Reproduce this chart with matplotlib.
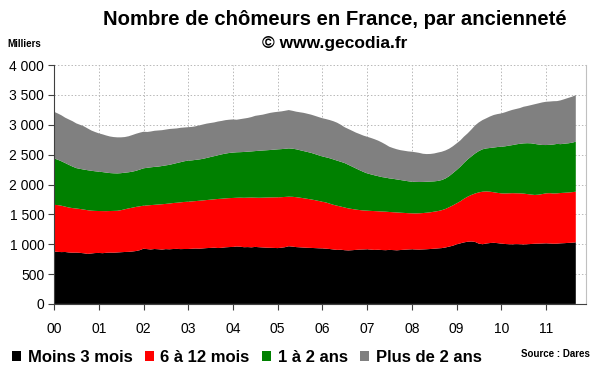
import numpy as np
import pandas as pd
import matplotlib
matplotlib.use("Agg")
import matplotlib.pyplot as plt
from matplotlib.patches import Patch

# Chômeurs par ancienneté, en milliers, mensuel de janvier 2000 à septembre 2011
moins_3_mois = [
    878, 872, 868, 870, 862, 858, 860, 855, 848, 838, 845, 852,
    854, 850, 856, 860, 858, 862, 866, 870, 872, 878, 886, 900,
    925, 918, 912, 920, 916, 910, 918, 915, 920, 922, 918, 920,
    920, 924, 928, 925, 930, 935, 938, 942, 936, 940, 948, 952,
    955, 962, 958, 950, 952, 948, 955, 950, 946, 942, 940, 938,
    935, 942, 950, 966, 960, 952, 948, 944, 940, 938, 935, 932,
    930, 925, 920, 912, 905, 908, 900, 896, 900, 905, 910, 912,
    915, 910, 905, 908, 903, 900, 905, 902, 898, 903, 908, 912,
    915, 912, 910, 913, 916, 920, 925, 930, 935, 945, 960, 975,
    998, 1015, 1030, 1042, 1046, 1038, 1010, 1000, 1012, 1020, 1024, 1018,
    1010, 1004, 1000, 998, 1002, 1000, 996, 1000, 1004, 1008, 1010, 1012,
    1015, 1012, 1008, 1010, 1015, 1018, 1022, 1025, 1032,
]
de_6_a_12_mois = [
    782, 783, 777, 760, 753, 747, 738, 735, 732, 732, 717, 706,
    702, 705, 698, 696, 700, 698, 704, 715, 728, 734, 739, 735,
    720, 732, 743, 740, 749, 760, 757, 767, 770, 773, 784, 788,
    792, 794, 794, 803, 804, 805, 808, 810, 822, 822, 820, 820,
    820, 816, 822, 828, 828, 834, 825, 828, 834, 840, 844, 847,
    851, 846, 842, 830, 834, 836, 832, 826, 820, 812, 803, 793,
    782, 773, 760, 748, 740, 722, 715, 704, 690, 675, 662, 654,
    647, 648, 650, 644, 645, 645, 635, 634, 634, 625, 616, 608,
    603, 604, 608, 609, 612, 615, 620, 625, 635, 645, 660, 675,
    687, 705, 730, 754, 779, 812, 858, 880, 873, 860, 846, 842,
    842, 846, 852, 857, 851, 852, 852, 840, 828, 817, 820, 828,
    837, 843, 842, 842, 843, 844, 844, 847, 848,
]
de_1_a_2_ans = [
    778, 760, 745, 730, 715, 695, 677, 672, 670, 670, 668, 664,
    659, 653, 646, 636, 630, 626, 620, 613, 605, 603, 605, 615,
    626, 630, 633, 635, 635, 640, 645, 648, 655, 665, 673, 682,
    688, 687, 690, 692, 696, 705, 714, 723, 732, 743, 750, 756,
    760, 762, 762, 767, 770, 773, 780, 787, 790, 792, 794, 799,
    803, 805, 806, 809, 806, 802, 795, 790, 785, 780, 772, 765,
    758, 757, 760, 760, 755, 750, 745, 730, 710, 690, 668, 646,
    625, 612, 600, 588, 577, 570, 563, 559, 553, 547, 541, 535,
    529, 528, 524, 521, 518, 515, 508, 505, 505, 510, 520, 540,
    558, 580, 600, 624, 645, 670, 692, 710, 720, 732, 750, 768,
    781, 790, 798, 805, 819, 830, 841, 852, 858, 855, 840, 822,
    809, 810, 820, 828, 818, 822, 824, 828, 837,
]
plus_de_2_ans = [
    780, 775, 770, 760, 760, 760, 749, 738, 725, 700, 675, 658,
    642, 632, 622, 613, 607, 604, 600, 597, 603, 613, 620, 618,
    613, 600, 600, 605, 605, 600, 600, 600, 590, 580, 575, 565,
    560, 560, 563, 570, 575, 575, 570, 565, 565, 560, 560, 557,
    555, 545, 553, 560, 565, 575, 590, 595, 600, 611, 622, 626,
    629, 632, 637, 642, 635, 630, 635, 640, 640, 640, 640, 640,
    640, 640, 640, 640, 635, 620, 600, 600, 600, 600, 605, 608,
    613, 610, 605, 595, 580, 555, 530, 515, 505, 500, 500, 500,
    502, 496, 488, 472, 464, 462, 467, 475, 474, 470, 460, 450,
    446, 440, 440, 437, 450, 470, 480, 490, 505, 528, 545, 552,
    558, 570, 580, 590, 593, 598, 613, 623, 640, 665, 690, 713,
    725, 725, 725, 717, 734, 746, 760, 770, 781,
]
series_labels = ["Moins 3 mois", "6 à 12 mois", "1 à 2 ans", "Plus de 2 ans"]
series_colors = ["#000000", "#ff0000", "#008000", "#808080"]
year_labels = ["00", "01", "02", "03", "04", "05", "06", "07", "08", "09", "10", "11"]

months = pd.date_range("2000-01-01", periods=len(moins_3_mois), freq="MS")

fig = plt.figure(figsize=(6, 3.72), dpi=100)
ax = fig.add_axes([0.09, 0.183, 0.887, 0.642])

ax.stackplot(months, moins_3_mois, de_6_a_12_mois, de_1_a_2_ans, plus_de_2_ans,
             colors=series_colors, linewidth=0, zorder=2)

ax.set_ylim(0, 4000)
ax.set_xlim(pd.Timestamp("2000-01-01"), pd.Timestamp("2011-11-25"))
ax.set_yticks(np.arange(0, 4001, 500))
ax.set_yticklabels([f"{v:,}".replace(",", " ") for v in range(0, 4001, 500)])
year_ticks = pd.date_range("2000-01-01", periods=len(year_labels), freq="YS")
ax.set_xticks(year_ticks)
ax.set_xticklabels(year_labels)
ax.tick_params(axis="both", labelsize=10, length=4, color="#404040", pad=3)
ax.tick_params(axis="x", pad=9)

ax.grid(True, linestyle=(0, (1.5, 2)), color="#b8b8b8", linewidth=0.7, zorder=0)
ax.set_axisbelow(True)
ax.spines["top"].set_visible(False)
ax.spines["right"].set_color("#c0c0c0")
ax.spines["left"].set_color("#404040")
ax.spines["bottom"].set_color("#404040")

fig.text(0.558, 0.947, "Nombre de chômeurs en France, par ancienneté",
         ha="center", va="center", fontsize=14.6, fontweight="bold",
         family="Liberation Sans")
fig.text(0.557, 0.884, "© www.gecodia.fr", ha="center", va="center",
         fontsize=12.5, fontweight="bold", family="Liberation Sans")
fig.text(0.013, 0.882, "Milliers", ha="left", va="center", fontsize=7,
         fontweight="bold", family="Liberation Sans")
fig.text(0.983, 0.048, "Source : Dares", ha="right", va="center", fontsize=7,
         fontweight="bold", family="Liberation Sans")

handles = [Patch(facecolor=c, edgecolor="none") for c in series_colors]
fig.legend(handles, series_labels, loc="center left", bbox_to_anchor=(-0.005, 0.038),
           ncol=4, frameon=False, handlelength=0.55, handleheight=0.55,
           handletextpad=0.38, columnspacing=0.75,
           prop={"family": "Liberation Sans", "weight": "bold", "size": 12})

for lab in ax.get_xticklabels() + ax.get_yticklabels():
    lab.set_family("Liberation Sans")

fig.savefig("out.png", dpi=100)
